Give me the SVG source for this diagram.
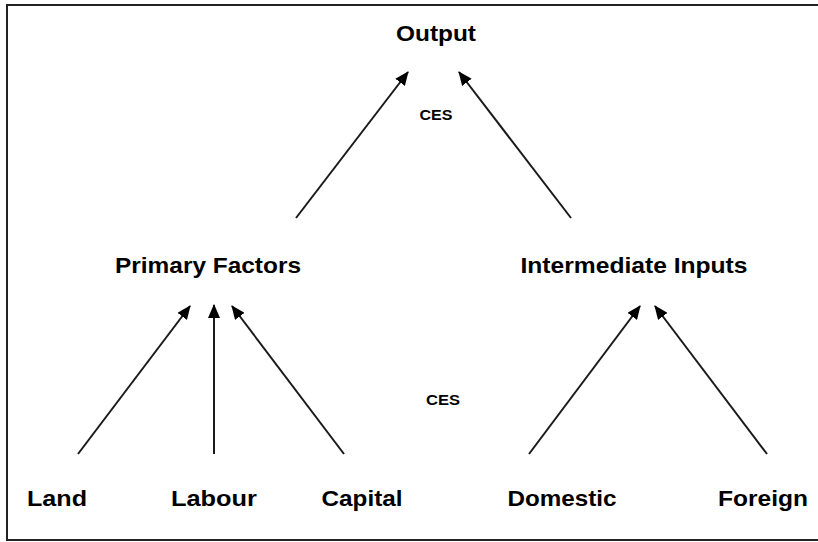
<svg xmlns="http://www.w3.org/2000/svg" width="818" height="542" viewBox="0 0 818 542">
  <style>
    .lbl { font-family: "Liberation Sans", Arial, sans-serif; font-weight: bold; fill: #000; text-anchor: middle; }
    .big { font-size: 22px; }
    .small { font-size: 14px; }
    .edge { stroke: #1a1a1a; stroke-width: 2; fill: none; marker-end: url(#arrow); }
  </style>
  <defs>
    <marker id="arrow" markerUnits="userSpaceOnUse" markerWidth="14" markerHeight="12" refX="13" refY="6" orient="auto">
      <path d="M0,0 L14,6 L0,12 z" fill="#000"/>
    </marker>
  </defs>

  <rect x="0" y="0" width="818" height="542" fill="#fff"/>
  <!-- frame (open on the right) -->
  <path d="M830,5 L7,5 L7,540 L830,540" fill="none" stroke="#222" stroke-width="2"/>

  <g id="connectors">
    <line class="edge" x1="296" y1="218" x2="408" y2="72"/>
    <line class="edge" x1="571" y1="218" x2="459" y2="72"/>
    <line class="edge" x1="78" y1="454" x2="190" y2="306"/>
    <line class="edge" x1="214" y1="454" x2="214" y2="305"/>
    <line class="edge" x1="344" y1="454" x2="232" y2="306"/>
    <line class="edge" x1="529" y1="454" x2="640" y2="306"/>
    <line class="edge" x1="767" y1="454" x2="655" y2="306"/>
  </g>

  <g id="output"><text class="lbl big" x="436" y="41" textLength="80" lengthAdjust="spacingAndGlyphs">Output</text></g>
  <g id="ces-top"><text class="lbl small" x="436" y="120" textLength="33" lengthAdjust="spacingAndGlyphs">CES</text></g>
  <g id="primary-factors"><text class="lbl big" x="208" y="273" textLength="186" lengthAdjust="spacingAndGlyphs">Primary Factors</text></g>
  <g id="intermediate-inputs"><text class="lbl big" x="634" y="273" textLength="227" lengthAdjust="spacingAndGlyphs">Intermediate Inputs</text></g>
  <g id="ces-bottom"><text class="lbl small" x="443" y="405" textLength="34" lengthAdjust="spacingAndGlyphs">CES</text></g>
  <g id="land"><text class="lbl big" x="57" y="506" textLength="60" lengthAdjust="spacingAndGlyphs">Land</text></g>
  <g id="labour"><text class="lbl big" x="214" y="506" textLength="86" lengthAdjust="spacingAndGlyphs">Labour</text></g>
  <g id="capital"><text class="lbl big" x="362" y="506" textLength="81" lengthAdjust="spacingAndGlyphs">Capital</text></g>
  <g id="domestic"><text class="lbl big" x="562" y="506" textLength="109" lengthAdjust="spacingAndGlyphs">Domestic</text></g>
  <g id="foreign"><text class="lbl big" x="763" y="506" textLength="90" lengthAdjust="spacingAndGlyphs">Foreign</text></g>
</svg>
